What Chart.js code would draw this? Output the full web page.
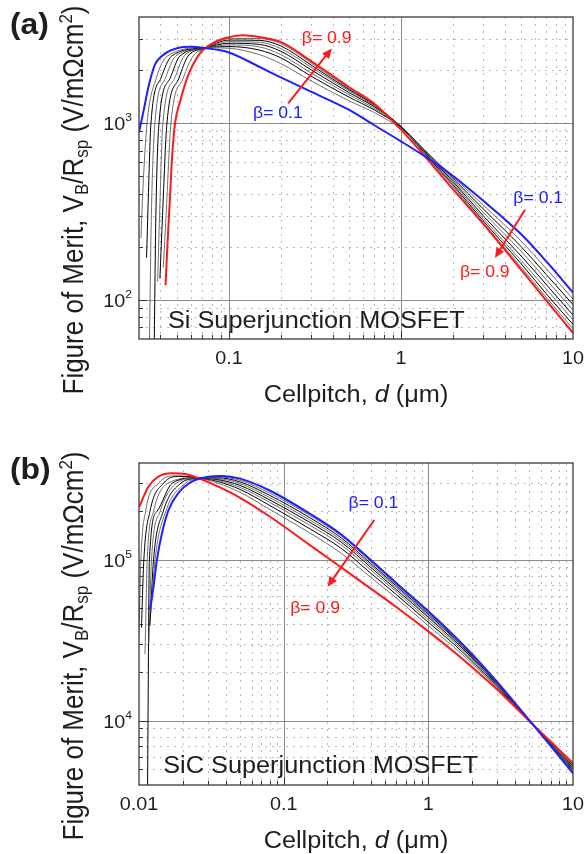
<!DOCTYPE html>
<html>
<head>
<meta charset="utf-8">
<title>Superjunction MOSFET figure of merit</title>
<script src="https://cdn.jsdelivr.net/npm/chart.js@4.4.1/dist/chart.umd.min.js"></script>
<style>
  html, body { margin: 0; padding: 0; background: #fff; }
  #wrap { position: relative; width: 584px; height: 854px; }
  canvas { position: absolute; left: 0; }
</style>
</head>
<body>
<div id="wrap">
  <canvas id="siChart" width="584" height="427" style="top:0"></canvas>
  <canvas id="sicChart" width="584" height="427" style="top:427px"></canvas>
</div>
<script>
const betas = ['0.1', '0.2', '0.3', '0.4', '0.5', '0.6', '0.7', '0.8', '0.9'];

// (a) Si superjunction MOSFET -- cellpitch (um) and FOM (V/mOhm cm2), one row per beta
const siTail = [0.072, 0.1, 0.15, 0.2, 0.3, 0.5, 0.7, 1, 1.5, 2, 3, 5, 7, 10];
const siPitch = [
  [0.03, 0.0318, 0.034, 0.037, 0.0425, 0.05, 0.06, 0.072, 0.1, 0.15, 0.2, 0.3, 0.5, 0.7, 1, 1.5, 2, 3, 5, 7, 10],
  [0.0308, 0.0316, 0.0334, 0.0378, 0.0438, ...siTail],
  [0.0332, 0.0339, 0.0352, 0.0402, 0.0464, ...siTail],
  [0.0345, 0.0354, 0.0371, 0.0427, 0.049, ...siTail],
  [0.0368, 0.0376, 0.0392, 0.0455, 0.0518, ...siTail],
  [0.0385, 0.0395, 0.0413, 0.0483, 0.0548, ...siTail],
  [0.0397, 0.0411, 0.0436, 0.0512, 0.0578, ...siTail],
  [0.0415, 0.0431, 0.046, 0.0542, 0.0618, ...siTail],
  [0.0428, 0.0438, 0.0454, 0.0468, 0.0486, 0.052, 0.058, 0.066, 0.072, 0.083, 0.1, 0.12, 0.15, 0.2, 0.3, 0.5, 0.7, 1, 1.5, 2, 3, 5, 7, 10]
];
const siFom = [
  [890, 1160, 1600, 2130, 2480, 2660, 2710, 2670, 2520, 2090, 1820, 1510, 1190, 975, 790, 615, 505, 365, 235, 165, 110],
  [224, 420, 1000, 1800, 2400, 2680, 2660, 2450, 2180, 1740, 1340, 1150, 930, 650, 500, 345, 215, 150, 101],
  [173, 350, 1000, 1800, 2400, 2675, 2720, 2600, 2350, 1850, 1405, 1190, 950, 645, 490, 328, 200, 139, 94],
  [58, 300, 1000, 1800, 2400, 2670, 2780, 2710, 2450, 1930, 1450, 1215, 960, 638, 480, 314, 188, 130, 87.5],
  [58, 300, 1000, 1800, 2400, 2665, 2840, 2800, 2560, 2010, 1490, 1240, 962, 630, 470, 300, 177, 122, 82],
  [127, 300, 1000, 1800, 2400, 2660, 2900, 2880, 2650, 2080, 1525, 1255, 960, 622, 460, 290, 167, 115, 77],
  [132, 300, 1000, 1800, 2400, 2650, 2960, 2950, 2745, 2140, 1550, 1270, 955, 614, 450, 281, 160, 108, 72.5],
  [152, 300, 1000, 1800, 2400, 2640, 3020, 3020, 2830, 2200, 1570, 1280, 945, 605, 440, 274, 153, 103, 68.5],
  [121, 197, 377, 662, 1000, 1330, 1875, 2400, 2640, 2890, 3070, 3150, 3080, 2890, 2250, 1600, 1290, 920, 590, 425, 270, 148, 99, 65]
];
const siXTicks = [0.1, 1, 10];
const siYTicks = [100, 1000];

// (b) SiC superjunction MOSFET
const sicTail = [0.025, 0.035, 0.05, 0.08, 0.15, 0.25, 0.4, 0.6, 1, 1.5, 2, 3, 5, 7, 10];
const sicPitch = [
  [0.0119, 0.0126, 0.0133, 0.0144, 0.016, 0.0187, 0.0232, 0.0302, 0.037, 0.05, 0.08, 0.15, 0.25, 0.4, 0.6, 1, 1.5, 2, 3, 5, 7, 10],
  [0.0121, 0.0129, 0.0153, 0.021, ...sicTail],
  [0.0119, 0.0126, 0.0147, 0.0195, ...sicTail],
  [0.0117, 0.0122, 0.014, 0.0182, ...sicTail],
  [0.01145, 0.0118, 0.0133, 0.017, ...sicTail],
  [0.011, 0.0114, 0.0126, 0.0159, ...sicTail],
  [0.0104, 0.0108, 0.0119, 0.0148, 0.019, ...sicTail],
  [0.01, 0.0103, 0.0111, 0.0137, 0.018, ...sicTail],
  [0.01, 0.0116, 0.0136, 0.0168, 0.0208, ...sicTail]
];
const sicFom = [
  [48900, 68200, 100000, 146000, 204000, 260000, 306000, 329000, 332000, 320000, 270000, 195000, 144000, 100000, 72000, 48000, 34000, 26100, 17400, 10080, 7000, 4720],
  [47000, 100000, 200000, 300000, 318000, 328000, 312000, 260000, 190000, 141000, 97600, 70500, 47000, 33400, 25700, 17200, 10100, 7050, 4840],
  [39000, 100000, 200000, 300000, 320000, 324000, 305000, 252000, 184000, 137000, 95000, 69000, 46000, 33000, 25300, 17100, 10100, 7100, 4920],
  [30000, 100000, 200000, 300000, 322000, 320000, 298000, 244000, 178000, 133000, 92700, 67500, 45000, 32500, 25000, 17000, 10050, 7150, 5000],
  [3500, 100000, 200000, 300000, 323000, 316000, 290000, 236000, 172000, 129000, 90000, 65500, 44000, 31800, 24600, 16800, 10000, 7200, 5070],
  [26000, 100000, 200000, 300000, 324000, 312000, 282000, 228000, 165000, 124000, 86700, 63500, 42500, 31000, 24100, 16600, 10000, 7250, 5150],
  [38000, 100000, 200000, 300000, 330000, 325000, 307000, 274000, 218000, 157000, 118000, 82700, 61000, 41000, 30000, 23500, 16300, 10000, 7300, 5250],
  [35000, 100000, 200000, 300000, 333000, 325000, 300000, 263000, 206000, 148000, 110000, 78000, 58000, 39000, 28800, 22800, 16000, 10000, 7380, 5350],
  [212000, 285000, 329000, 345000, 342000, 325000, 286000, 243000, 186000, 124500, 89800, 66400, 51000, 36000, 26900, 21600, 15600, 9960, 7450, 5460]
];
const sicXTicks = [0.01, 0.1, 1, 10];
const sicYTicks = [10000, 100000];

const FONT = "'Liberation Sans', Arial, sans-serif";
const STRETCH = 1.1;  // the source figure is a little wider than tall
const BLUE = '#2020ff';
const RED = '#ff1a1a';

// draw a row of text pieces: [text, font, dy]
function drawRuns(ctx, runs, x, y, align, sx, sy) {
  let total = 0;
  const widths = runs.map(r => {
    ctx.font = r[1];
    const w = ctx.measureText(r[0]).width * sx;
    total += w;
    return w;
  });
  let cx = align === 'center' ? x - total / 2 : align === 'right' ? x - total : x;
  runs.forEach((r, i) => {
    ctx.save();
    ctx.font = r[1];
    ctx.textAlign = 'left';
    ctx.textBaseline = 'alphabetic';
    ctx.translate(cx, y + (r[2] || 0));
    ctx.scale(sx, sy);
    ctx.fillText(r[0], 0, 0);
    ctx.restore();
    cx += widths[i];
  });
}

function logValues(min, max) {
  const out = [];
  for (let e = Math.floor(Math.log10(min)); e <= Math.ceil(Math.log10(max)); e++) {
    for (let m = 1; m < 10; m++) {
      const v = m * Math.pow(10, e);
      if (v > min * 1.0001 && v < max * 0.9999) out.push({ v, major: m === 1 });
    }
  }
  return out;
}

function arrow(ctx, x1, y1, x2, y2, color) {
  const ang = Math.atan2(y2 - y1, x2 - x1);
  const L = 10, W = 4.5;
  ctx.strokeStyle = color;
  ctx.fillStyle = color;
  ctx.lineWidth = 2;
  ctx.setLineDash([]);
  ctx.beginPath();
  ctx.moveTo(x1, y1);
  ctx.lineTo(x2 - L * 0.8 * Math.cos(ang), y2 - L * 0.8 * Math.sin(ang));
  ctx.stroke();
  ctx.beginPath();
  ctx.moveTo(x2, y2);
  ctx.lineTo(x2 - L * Math.cos(ang) + W * Math.sin(ang), y2 - L * Math.sin(ang) - W * Math.cos(ang));
  ctx.lineTo(x2 - L * Math.cos(ang) - W * Math.sin(ang), y2 - L * Math.sin(ang) + W * Math.cos(ang));
  ctx.closePath();
  ctx.fill();
}

function framePlugin(cfg) {
  return {
    id: 'frame',
    beforeDatasetsDraw(chart) {
      const { ctx, chartArea: a, scales: { x, y } } = chart;
      ctx.save();
      ctx.lineWidth = 1;
      const xs = logValues(cfg.xMin, cfg.xMax);
      const ys = logValues(cfg.yMin, cfg.yMax);
      // minor dotted first, major solid on top
      [false, true].forEach(major => {
        ctx.strokeStyle = major ? '#8c8c8c' : '#b9b9b9';
        ctx.setLineDash(major ? [] : [2, 5]);
        xs.filter(t => t.major === major).forEach(t => {
          const px = Math.round(x.getPixelForValue(t.v)) + 0.5;
          ctx.beginPath(); ctx.moveTo(px, a.top); ctx.lineTo(px, a.bottom); ctx.stroke();
        });
        ys.filter(t => t.major === major).forEach(t => {
          const py = Math.round(y.getPixelForValue(t.v)) + 0.5;
          ctx.beginPath(); ctx.moveTo(a.left, py); ctx.lineTo(a.right, py); ctx.stroke();
        });
      });
      // inward ticks on left and bottom
      ctx.setLineDash([]);
      ctx.strokeStyle = '#333';
      xs.forEach(t => {
        const px = Math.round(x.getPixelForValue(t.v)) + 0.5;
        ctx.beginPath(); ctx.moveTo(px, a.bottom); ctx.lineTo(px, a.bottom - (t.major ? 8 : 4)); ctx.stroke();
      });
      ys.forEach(t => {
        const py = Math.round(y.getPixelForValue(t.v)) + 0.5;
        ctx.beginPath(); ctx.moveTo(a.left, py); ctx.lineTo(a.left + (t.major ? 8 : 4), py); ctx.stroke();
      });
      ctx.restore();
    },
    afterDatasetsDraw(chart) {
      const { ctx, chartArea: a, scales: { x, y } } = chart;
      ctx.save();
      ctx.strokeStyle = '#3a3a3a';
      ctx.lineWidth = 1.3;
      ctx.strokeRect(a.left, a.top, a.right - a.left, a.bottom - a.top);

      // notes inside the plot
      cfg.notes.forEach(n => {
        if (n.arrow) {
          arrow(ctx, x.getPixelForValue(n.from[0]), y.getPixelForValue(n.from[1]),
            x.getPixelForValue(n.to[0]), y.getPixelForValue(n.to[1]), n.color);
        } else {
          ctx.fillStyle = n.color;
          drawRuns(ctx, [[n.text, (n.size || 16) + 'px ' + FONT]],
            x.getPixelForValue(n.at[0]), y.getPixelForValue(n.at[1]), 'left', STRETCH, 1);
        }
      });

      // tick labels
      ctx.fillStyle = '#1e1e1e';
      cfg.xTicks.forEach(v => {
        drawRuns(ctx, [[String(v), '18px ' + FONT]], x.getPixelForValue(v), a.bottom + 24.5, 'center', STRETCH, 1);
      });
      cfg.yTicks.forEach(v => {
        const e = Math.round(Math.log10(v));
        drawRuns(ctx, [['10', '18px ' + FONT], [String(e), '11px ' + FONT, -9]],
          a.left - 7, y.getPixelForValue(v) + 7, 'right', STRETCH, 1);
      });

      // axis titles
      drawRuns(ctx, [['Cellpitch, ', '23px ' + FONT], ['d', 'italic 23px ' + FONT], [' (\u03bcm)', '23px ' + FONT]],
        (a.left + a.right) / 2, a.bottom + 62.7, 'center', STRETCH, 1);
      ctx.save();
      ctx.translate(83, (a.top + a.bottom) / 2 + 22);
      ctx.rotate(-Math.PI / 2);
      drawRuns(ctx, [
        ['Figure of Merit, V', '26px ' + FONT],
        ['B', '17px ' + FONT, 5],
        ['/R', '26px ' + FONT],
        ['sp', '17px ' + FONT, 5],
        [' (V/m\u03a9cm', '26px ' + FONT],
        ['2', '17px ' + FONT, -11],
        [')', '26px ' + FONT]
      ], 0, 0, 'center', 1, STRETCH);
      ctx.restore();

      // panel letter
      drawRuns(ctx, [[cfg.panel, 'bold 29px ' + FONT]], 10, cfg.panelBase, 'left', STRETCH, 1);
      ctx.restore();
    }
  };
}

function buildSets(pitch, fom) {
  return betas.map((b, i) => {
    const edge = i === 0 || i === betas.length - 1;
    return {
      label: '\u03b2= ' + b,
      data: pitch[i].map((d, j) => ({ x: d, y: fom[i][j] })),
      borderColor: i === 0 ? BLUE : i === betas.length - 1 ? RED : (i % 2 ? '#6e6e6e' : '#000'),
      borderWidth: edge ? 2 : 1,
      pointRadius: 0,
      cubicInterpolationMode: 'monotone',
      order: edge ? 0 : 1
    };
  });
}

function makeChart(id, pitch, fom, cfg) {
  new Chart(document.getElementById(id), {
    type: 'line',
    data: { datasets: buildSets(pitch, fom) },
    options: {
      responsive: false,
      devicePixelRatio: 1,
      animation: false,
      layout: { padding: cfg.padding },
      plugins: { legend: { display: false }, tooltip: { enabled: false } },
      scales: {
        x: { type: 'logarithmic', min: cfg.xMin, max: cfg.xMax, display: false },
        y: { type: 'logarithmic', min: cfg.yMin, max: cfg.yMax, display: false }
      }
    },
    plugins: [framePlugin(cfg)]
  });
}

makeChart('siChart', siPitch, siFom, {
  xMin: 0.03, xMax: 10, yMin: 60, yMax: 4000,
  xTicks: siXTicks, yTicks: siYTicks,
  padding: { left: 139, top: 17, right: 11, bottom: 88 },
  panel: '(a)', panelBase: 34,
  notes: [
    { text: '\u03b2= 0.9', at: [0.265, 2845], color: RED },
    { text: '\u03b2= 0.1', at: [0.138, 1072], color: BLUE },
    { arrow: true, from: [0.221, 1298], to: [0.396, 2654], color: RED },
    { text: '\u03b2= 0.1', at: [4.5, 355], color: BLUE },
    { arrow: true, from: [5.26, 324], to: [3.52, 173], color: RED },
    { text: '\u03b2= 0.9', at: [2.2, 134], color: RED },
    { text: 'Si Superjunction MOSFET', at: [0.0442, 69.5], color: '#1e1e1e', size: 23 }
  ]
});

makeChart('sicChart', sicPitch, sicFom, {
  xMin: 0.01, xMax: 10, yMin: 4000, yMax: 400000,
  xTicks: sicXTicks, yTicks: sicYTicks,
  padding: { left: 139, top: 36, right: 11, bottom: 69 },
  panel: '(b)', panelBase: 52,
  notes: [
    { text: '\u03b2= 0.1', at: [0.281, 210000], color: BLUE },
    { arrow: true, from: [0.423, 177000], to: [0.201, 68200], color: RED },
    { text: '\u03b2= 0.9', at: [0.111, 46900], color: RED },
    { text: 'SiC Superjunction MOSFET', at: [0.0147, 4730], color: '#1e1e1e', size: 23 }
  ]
});
</script>
</body>
</html>
